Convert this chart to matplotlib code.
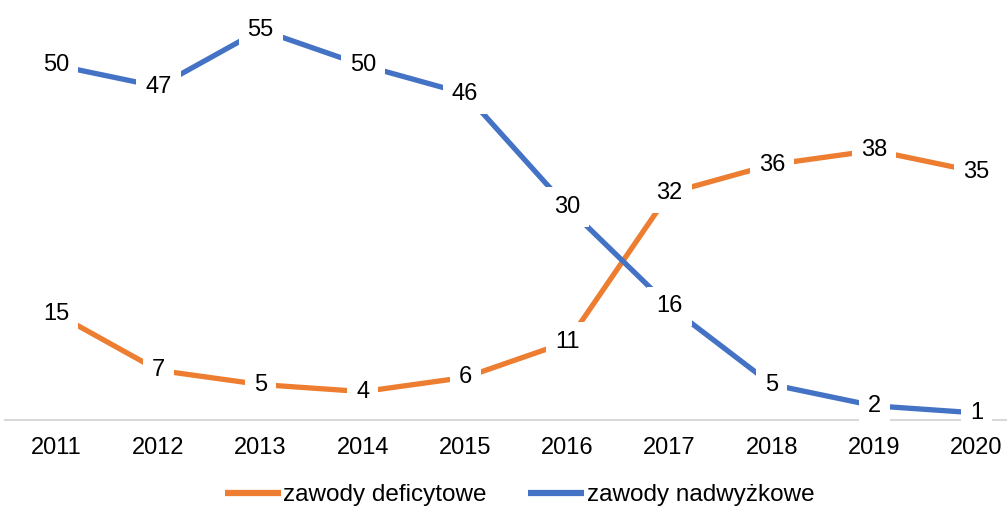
import matplotlib

matplotlib.use("Agg")
import matplotlib.pyplot as plt

years = ["2011", "2012", "2013", "2014", "2015", "2016", "2017", "2018", "2019", "2020"]
deficit = [15, 7, 5, 4, 6, 11, 32, 36, 38, 35]
surplus = [50, 47, 55, 50, 46, 30, 16, 5, 2, 1]
series_names = ["zawody deficytowe", "zawody nadwyżkowe"]

ORANGE = "#ED7D31"
BLUE = "#4472C4"

plt.rcParams["font.family"] = ["Liberation Sans", "DejaVu Sans"]

fig = plt.figure(figsize=(10.07, 5.11), dpi=100)
ax = fig.add_axes([5 / 1007, 91 / 511, 1002 / 1007, 420 / 511])

x = list(range(len(years)))
ax.plot(x, deficit, color=ORANGE, linewidth=3.8, solid_capstyle="butt", label=series_names[0], zorder=2)
ax.plot(x, surplus, color=BLUE, linewidth=3.8, solid_capstyle="butt", label=series_names[1], zorder=2)

for values in (deficit, surplus):
    for xi, v in zip(x, values):
        ax.text(xi, v, str(v), ha="center", va="center", fontsize=17, color="#000000", zorder=3,
                bbox={"facecolor": "white", "edgecolor": "none", "boxstyle": "square,pad=0.38"})

ax.set_xlim(-0.5, 9.3)
ax.set_ylim(0, 59.2)
ax.set_xticks(x)
ax.set_xticklabels(years, fontsize=17)
ax.set_yticks([])
ax.tick_params(axis="x", length=0, pad=12)
for side in ("top", "right", "left"):
    ax.spines[side].set_visible(False)
ax.spines["bottom"].set_color("#D9D9D9")
ax.spines["bottom"].set_linewidth(1.5)

leg = fig.legend(loc="center", bbox_to_anchor=(0.516, 1 - 495 / 511), ncol=2, frameon=False, fontsize=17.5,
                 handlelength=2.3, columnspacing=1.7, handletextpad=0.1)
for line in leg.get_lines():
    line.set_linewidth(4.5)

fig.savefig("out.png", dpi=100)
